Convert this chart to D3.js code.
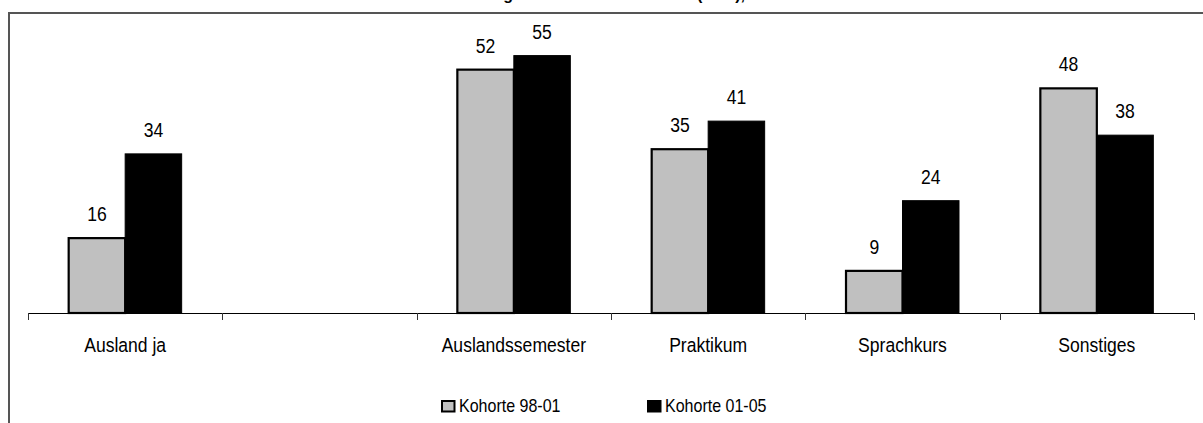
<!DOCTYPE html>
<html><head><meta charset="utf-8">
<script src="https://cdn.jsdelivr.net/npm/d3@7"></script>
<style>
html,body{margin:0;padding:0;background:#fff;overflow:hidden;}
svg{display:block;}
text{fill:#000;}
</style></head>
<body>
<svg id="chart" width="1203" height="423"></svg>
<script>
const title = "Auslandserfahrung während des Studiums (in %), nach Art des Aufenthalts";
const categories = ["Ausland ja", "", "Auslandssemester", "Praktikum", "Sprachkurs", "Sonstiges"];
const seriesNames = ["Kohorte 98-01", "Kohorte 01-05"];
const kohorte9801 = [16, null, 52, 35, 9, 48];
const kohorte0105 = [34, null, 55, 41, 24, 38];
const seriesValues = [kohorte9801, kohorte0105];
const seriesColors = ["#c0c0c0", "#000000"];

// font choice: narrow face if installed, otherwise condensed regular face
const cv = document.createElement("canvas").getContext("2d");
cv.font = "40px 'Liberation Sans'";
const wReg = cv.measureText("Auslandssemester").width;
cv.font = "40px 'Liberation Sans Narrow', 'Liberation Sans'";
const wNar = cv.measureText("Auslandssemester").width;
const hasNarrow = wNar < wReg * 0.9;
const FONT = hasNarrow ? "'Liberation Sans Narrow', 'Arial Narrow', sans-serif" : "'Liberation Sans', Arial, sans-serif";
const SX = hasNarrow ? 1.1 : 0.9;

const svg = d3.select("#chart");

// frame
svg.append("line").attr("x1", 9).attr("x2", 1203).attr("y1", 13).attr("y2", 13)
  .attr("stroke", "#555").attr("stroke-width", 2);
svg.append("line").attr("x1", 9).attr("x2", 9).attr("y1", 12).attr("y2", 423)
  .attr("stroke", "#555").attr("stroke-width", 2);

// title (mostly above visible area, as in the reference)
svg.append("text").attr("x", 652).attr("y", -0.5).attr("text-anchor", "middle")
  .style("font-family", "'Liberation Sans', Arial, sans-serif")
  .style("font-size", "16px").style("font-weight", "bold").text(title);

const x = d3.scaleBand().domain(categories).range([28, 1194]).padding(0);
const sub = d3.scaleBand().domain(seriesNames).range([0, x.bandwidth()]).paddingInner(0).paddingOuter(0.72);
const y = d3.scaleLinear().domain([0, 60]).range([313, 32.2]);

const data = [];
categories.forEach((c, i) => {
  seriesNames.forEach((s, j) => {
    const v = seriesValues[j][i];
    if (v !== null && v !== undefined) data.push({cat: c, series: s, j, v});
  });
});

// bars
svg.append("g").selectAll("rect").data(data).join("rect")
  .attr("x", d => x(d.cat) + sub(d.series))
  .attr("y", d => y(d.v))
  .attr("width", sub.bandwidth())
  .attr("height", d => y(0) - y(d.v))
  .attr("fill", d => seriesColors[d.j])
  .attr("stroke", "#000")
  .attr("stroke-width", d => d.j === 0 ? 2.2 : 1);

// value labels
svg.append("g").selectAll("text").data(data).join("text")
  .attr("text-anchor", "middle")
  .attr("transform", d => `translate(${x(d.cat) + sub(d.series) + sub.bandwidth() / 2},${y(d.v) - 17}) scale(${SX},1)`)
  .style("font-family", FONT)
  .style("font-size", "19.5px")
  .text(d => d.v);

// axis
const axisG = svg.append("g");
axisG.append("line").attr("x1", x.range()[0]).attr("x2", x.range()[1])
  .attr("y1", y(0) + 0.5).attr("y2", y(0) + 0.5).attr("stroke", "#000").attr("stroke-width", 1.2);
const tickPos = categories.map(c => x(c)).concat([x.range()[1]]);
axisG.selectAll("line.tick").data(tickPos).join("line").attr("class", "tick")
  .attr("x1", d => Math.round(d) + 0.5).attr("x2", d => Math.round(d) + 0.5)
  .attr("y1", y(0)).attr("y2", y(0) + 7).attr("stroke", "#333").attr("stroke-width", 1);
axisG.selectAll("text").data(categories.filter(c => c !== "")).join("text")
  .attr("text-anchor", "middle")
  .attr("transform", d => `translate(${x(d) + x.bandwidth() / 2},351.5) scale(${SX},1)`)
  .style("font-family", FONT)
  .style("font-size", "19.5px")
  .text(d => d);

// legend
const legendX = [441, 647];
const lg = svg.append("g").selectAll("g").data(seriesNames).join("g")
  .attr("transform", (d, i) => `translate(${legendX[i]},400)`);
lg.append("rect").attr("x", 1).attr("y", 1).attr("width", 12.5).attr("height", 10.5)
  .attr("fill", (d, i) => seriesColors[i]).attr("stroke", "#000").attr("stroke-width", 2);
lg.append("text").attr("transform", `translate(18,11.7) scale(${hasNarrow ? 1.05 : 0.9},1)`)
  .style("font-family", FONT)
  .style("font-size", "17.8px").text(d => d);
</script>
</body></html>
